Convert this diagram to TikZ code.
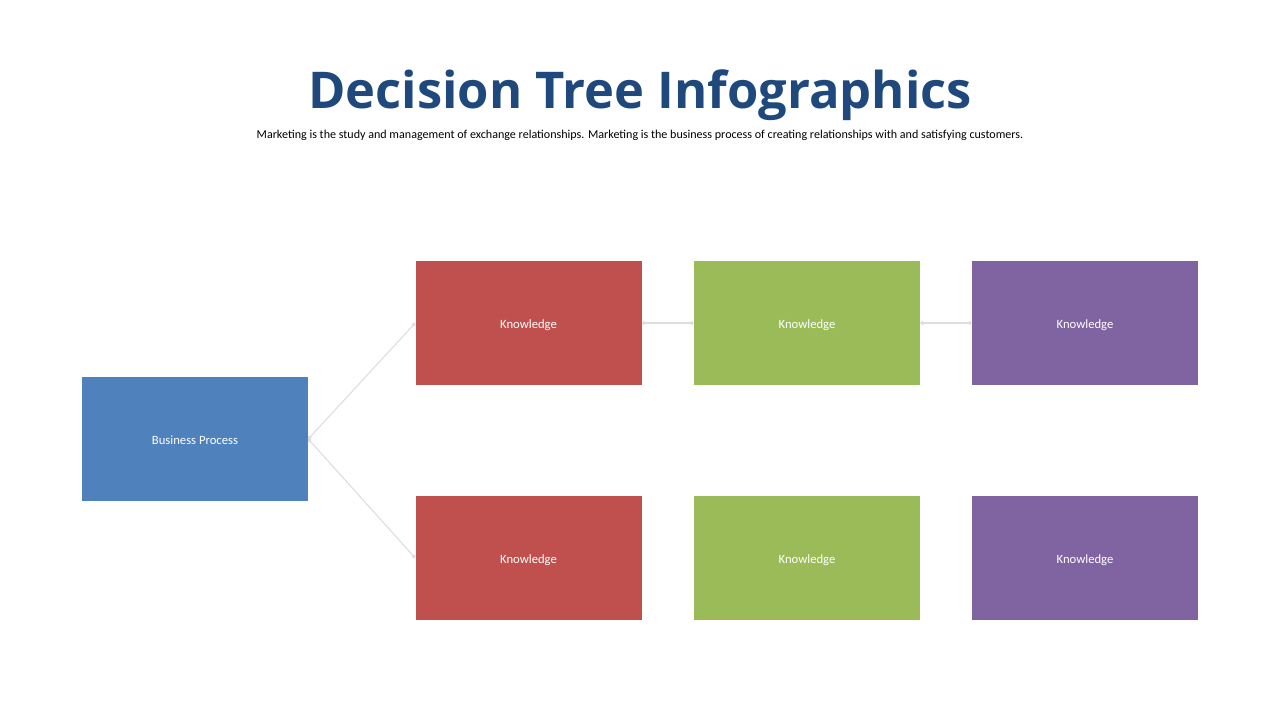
\documentclass[tikz,border=0pt]{standalone}
\usepackage{fontspec}
\setmainfont{Carlito}
\newfontfamily\titlefont{Open Sans}
\usetikzlibrary{positioning, arrows.meta}

\definecolor{titleblue}{HTML}{1F497D}
\definecolor{bpblue}{HTML}{4F81BD}
\definecolor{kred}{HTML}{C0504D}
\definecolor{kgreen}{HTML}{9BBB59}
\definecolor{kpurple}{HTML}{8064A2}
\definecolor{linegray}{HTML}{DDDDDD}

\tikzset{
  box/.style={minimum width=169.5pt, minimum height=93pt, inner sep=0pt, text height=9.5pt, text depth=2pt, text=white, font=\fontsize{9.5}{11}\selectfont},
  link/.style={draw=linegray, line width=0.8pt, {Circle[length=3pt]}-{Circle[length=3pt]}}
}

\begin{document}
\begin{tikzpicture}[x=0.75pt, y=-0.75pt]
    % Page frame
    \useasboundingbox (0,0) rectangle (1280,720);

    % Heading
    \node[text=titleblue, font=\titlefont\bfseries\fontsize{38}{44}\selectfont] (title) at (640,95) {Decision Tree Infographics};
    \node[font=\fontsize{9.05}{11}\selectfont] (sub) at (640,135.5) {Marketing is the study and management of exchange relationships. Marketing is the business process of creating relationships with and satisfying customers.};

    % Root box
    \node[box, fill=bpblue] (bp) at (195,439) {Business Process};

    % Knowledge boxes: row / column / colour
    \foreach \r/\y in {1/323, 2/558} {
      \foreach \c/\x/\col in {1/528.5/kred, 2/807/kgreen, 3/1085/kpurple} {
        \node[box, fill=\col] (k\r\c) at (\x,\y) {Knowledge};
      }
    }

    % Connectors
    \draw[link] (bp.east) -- (k11.west);
    \draw[link] (bp.east) -- (k21.west);
    \draw[link] (k11.east) -- (k12.west);
    \draw[link] (k12.east) -- (k13.west);
\end{tikzpicture}
\end{document}
